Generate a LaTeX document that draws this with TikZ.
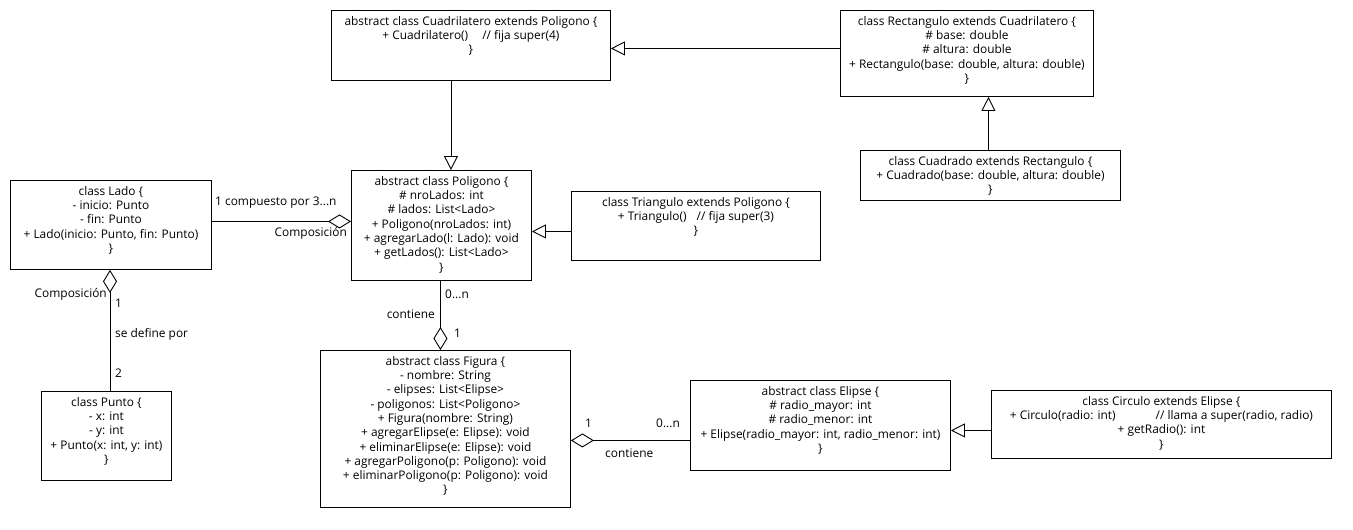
\documentclass[tikz,border=0pt]{standalone}
\usepackage{fontspec}
\setmainfont{Open Sans}
\usetikzlibrary{arrows.meta}
\newcommand{\umlfont}{\fontsize{11.9}{14.3}\selectfont}
\tikzset{
  classbox/.style={draw, line width=0.9pt, fill=white, inner sep=0pt, anchor=north west},
  classtext/.style={align=center, font=\umlfont, inner sep=0pt, anchor=north},
  lbl/.style={font=\umlfont, inner sep=0pt},
  conn/.style={line width=0.9pt},
  inherit/.style={conn, -{Triangle[open, length=14pt, width=14pt, line width=0.9pt]}},
  compo/.style={conn, -{Diamond[open, length=23pt, width=14pt, line width=0.9pt]}},
}
% box at top-left (x,y) with width w and height h
\newcommand{\umlbox}[6]{%
  \node[classbox, minimum width=#4pt, minimum height=#5pt] (#1) at (#2,#3) {};
  \node[classtext] (#1t) at ([yshift=-6pt]#1.north) {#6};
}
\begin{document}
\begin{tikzpicture}[x=1pt, y=-1pt]
\useasboundingbox (0,0) rectangle (1353,530);
\fill[white] (0,0) rectangle (1353,530);

\umlbox{cuad}{331}{10}{279}{70}{abstract class Cuadrilatero extends Poligono \{\\
+ Cuadrilatero()\hspace{14pt}// fija super(4)\\ \}}
\umlbox{rect}{840}{10}{253}{86}{class Rectangulo extends Cuadrilatero \{\\
\# base: double\\ \# altura: double\\
+ Rectangulo(base: double, altura: double)\\ \}}
\umlbox{cuadrado}{860}{150}{260}{50}{class Cuadrado extends Rectangulo \{\\
+ Cuadrado(base: double, altura: double)\\ \}}
\umlbox{lado}{10}{180}{201}{89}{class Lado \{\\
- inicio: Punto\\ - fin: Punto\\
+ Lado(inicio: Punto, fin: Punto)\\ \}}
\umlbox{poly}{351}{170}{180}{110}{abstract class Poligono \{\\
\# nroLados: int\\ \# lados: List<Lado>\\
+ Poligono(nroLados: int)\\ + agregarLado(l: Lado): void\\
+ getLados(): List<Lado>\\ \}}
\umlbox{tri}{571}{191}{249}{69}{class Triangulo extends Poligono \{\\
+ Triangulo()\hspace{10pt}// fija super(3)\\ \}}
\umlbox{punto}{41}{391}{130}{89}{class Punto \{\\
- x: int\\ - y: int\\ + Punto(x: int, y: int)\\ \}}
\umlbox{fig}{320}{350}{250}{157}{abstract class Figura \{\\
- nombre: String\\ - elipses: List<Elipse>\\ - poligonos: List<Poligono>\\
+ Figura(nombre: String)\\ + agregarElipse(e: Elipse): void\\
+ eliminarElipse(e: Elipse): void\\ + agregarPoligono(p: Poligono): void\\
+ eliminarPoligono(p: Poligono): void\\ \}}
\umlbox{elip}{690}{380}{260}{90}{abstract class Elipse \{\\
\# radio\_mayor: int\\ \# radio\_menor: int\\
+ Elipse(radio\_mayor: int, radio\_menor: int)\\ \}}
\umlbox{circ}{991}{390}{340}{68}{class Circulo extends Elipse \{\\
+ Circulo(radio: int)\hspace{40pt}// llama a super(radio, radio)\\
+ getRadio(): int\\ \}}

% generalizations
\draw[inherit] ([yshift=5pt]rect.west) -- ([yshift=5pt]rect.west -| cuad.east);
\draw[inherit] ([xshift=-2pt]cuadrado.north) -- ([xshift=-2pt]cuadrado.north |- rect.south);
\draw[inherit] ([xshift=-20pt]cuad.south) -- ([xshift=-20pt]cuad.south |- poly.north);
\draw[inherit] ([yshift=-5.5pt]tri.west) -- ([yshift=-5.5pt]tri.west -| poly.east);
\draw[inherit] ([yshift=-6pt]circ.west) -- ([yshift=-6pt]circ.west -| elip.east);

% compositions
\draw[compo] ([yshift=3.5pt]lado.east) coordinate (ladoE) -- (ladoE -| poly.west);
\draw[compo] (punto.north -| 110,0) coordinate (puntoN) -- (puntoN |- lado.south);
\draw[compo] ([xshift=-1pt]poly.south) coordinate (polyS) -- (polyS |- fig.north);
\draw[compo] ([yshift=-15pt]elip.west) coordinate (elipW) -- (elipW -| fig.east);

% association labels
\node[lbl, anchor=west] (l1) at (215,203) {1 compuesto por 3...n};
\node[lbl, anchor=east] (l2) at (347,233) {Composición};
\node[lbl, anchor=east] (l3) at (107,294) {Composición};
\node[lbl, anchor=west] (l4) at (115,303) {1};
\node[lbl, anchor=west] (l5) at (115,334) {se define por};
\node[lbl, anchor=west] (l6) at (115,373) {2};
\node[lbl, anchor=west] (l7) at (445,294) {0...n};
\node[lbl, anchor=east] (l8) at (435,314) {contiene};
\node[lbl, anchor=west] (l9) at (454,333) {1};
\node[lbl, anchor=west] (l10) at (585,423) {1};
\node[lbl, anchor=west] (l11) at (656,423) {0...n};
\node[lbl, anchor=west] (l12) at (605,453) {contiene};
\end{tikzpicture}
\end{document}
